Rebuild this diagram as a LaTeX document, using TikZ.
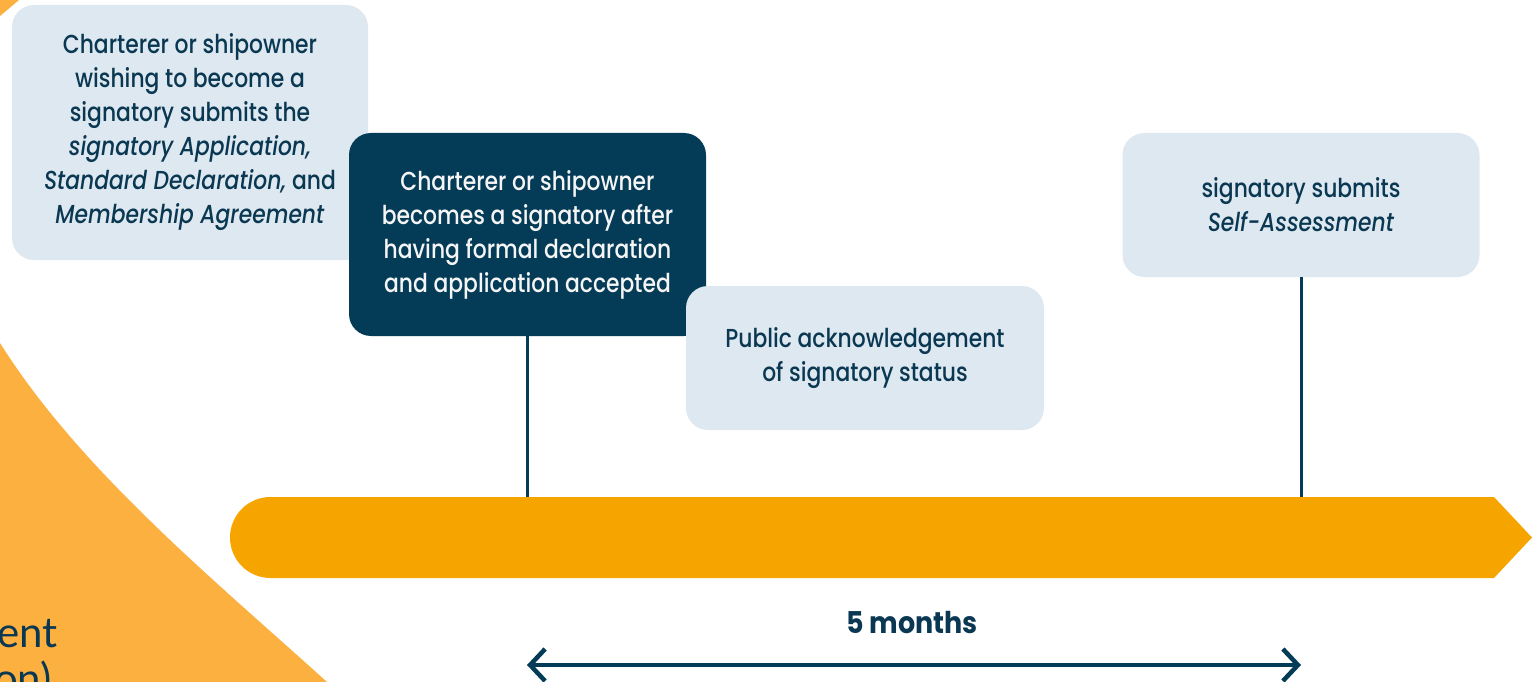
\documentclass[tikz,border=0pt]{standalone}
\usepackage{fontspec}
\setmainfont{Poppins}[UprightFont=* Medium, ItalicFont=* Medium Italic, FakeStretch=0.84]
\newfontfamily\thinfont{Lato}
\newfontfamily\monthsfont{Poppins}[FakeStretch=0.9]
\usetikzlibrary{arrows.meta}
\definecolor{lightbox}{RGB}{222,232,240}
\definecolor{darkbox}{RGB}{4,59,87}
\definecolor{textdark}{RGB}{10,56,82}
\definecolor{lineorange}{RGB}{246,165,0}
\definecolor{bgorange}{RGB}{251,176,64}
\tikzset{
  stepbox/.style={rounded corners=22pt, inner sep=0pt, align=center,
    font=\fontsize{26}{34}\selectfont},
  lightstep/.style={stepbox, fill=lightbox, text=textdark},
  darkstep/.style={stepbox, fill=darkbox, text=white!96!black},
  conn/.style={draw=darkbox, line width=3pt},
  span/.style={draw=darkbox, line width=4.5pt,
    {Straight Barb[length=15pt,width=32pt]}-{Straight Barb[length=15pt,width=32pt]}},
}
\begin{document}
\begin{tikzpicture}[x=1pt,y=-1pt]
\useasboundingbox (0,0) rectangle (1537,682);
% background orange shapes
\fill[bgorange] (0,343) .. controls (80,470) and (211,577) .. (327,682) -- (0,682) -- cycle;
\fill[bgorange] (0,0) -- (19,0) -- (0,16) -- cycle;
\node[text=textdark, font=\thinfont\fontsize{42}{45}\selectfont, anchor=base east, inner sep=0pt] (lblA) at (58,647) {ent};
\node[text=textdark, font=\thinfont\fontsize{42}{45}\selectfont, anchor=base east, inner sep=0pt] (lblB) at (52,693) {on)};
% timeline
\fill[lineorange] (270.5,537.5) circle[radius=40.5];
\fill[lineorange] (270.5,497) -- (1494,497) -- (1532,537.5) -- (1494,578) -- (270.5,578) -- cycle;
\coordinate (tA) at (527.5,497);
\coordinate (tB) at (1301,497);
% boxes
\node[lightstep, minimum width=356pt, minimum height=255pt] (s1) at (190,132.5)
  {Charterer or shipowner\\ wishing to become a\\ signatory submits the\\ \textit{signatory Application,}\\ \textit{Standard Declaration,} and\\ \textit{Membership Agreement}};
\node[darkstep, minimum width=357pt, minimum height=203pt] (s2) at (527.5,234.5)
  {Charterer or shipowner\\ becomes a signatory after\\ having formal declaration\\ and application accepted};
\node[lightstep, minimum width=358pt, minimum height=144pt] (s3) at (865,358)
  {Public acknowledgement\\ of signatory status};
\node[lightstep, minimum width=357pt, minimum height=144pt] (s4) at (1301,205)
  {signatory submits\\ \textit{Self-Assessment}};
\draw[conn] (s2.south) -- (tA);
\draw[conn] (s4.south) -- (tB);
% duration
\node[text=textdark, font=\monthsfont\bfseries\fontsize{30}{32}\selectfont, inner sep=0pt] (dur) at (912,623) {5 months};
\coordinate (aL) at (527,665);
\coordinate (aR) at (1301,665);
\draw[span] (aL) -- (aR);
\end{tikzpicture}
\end{document}
